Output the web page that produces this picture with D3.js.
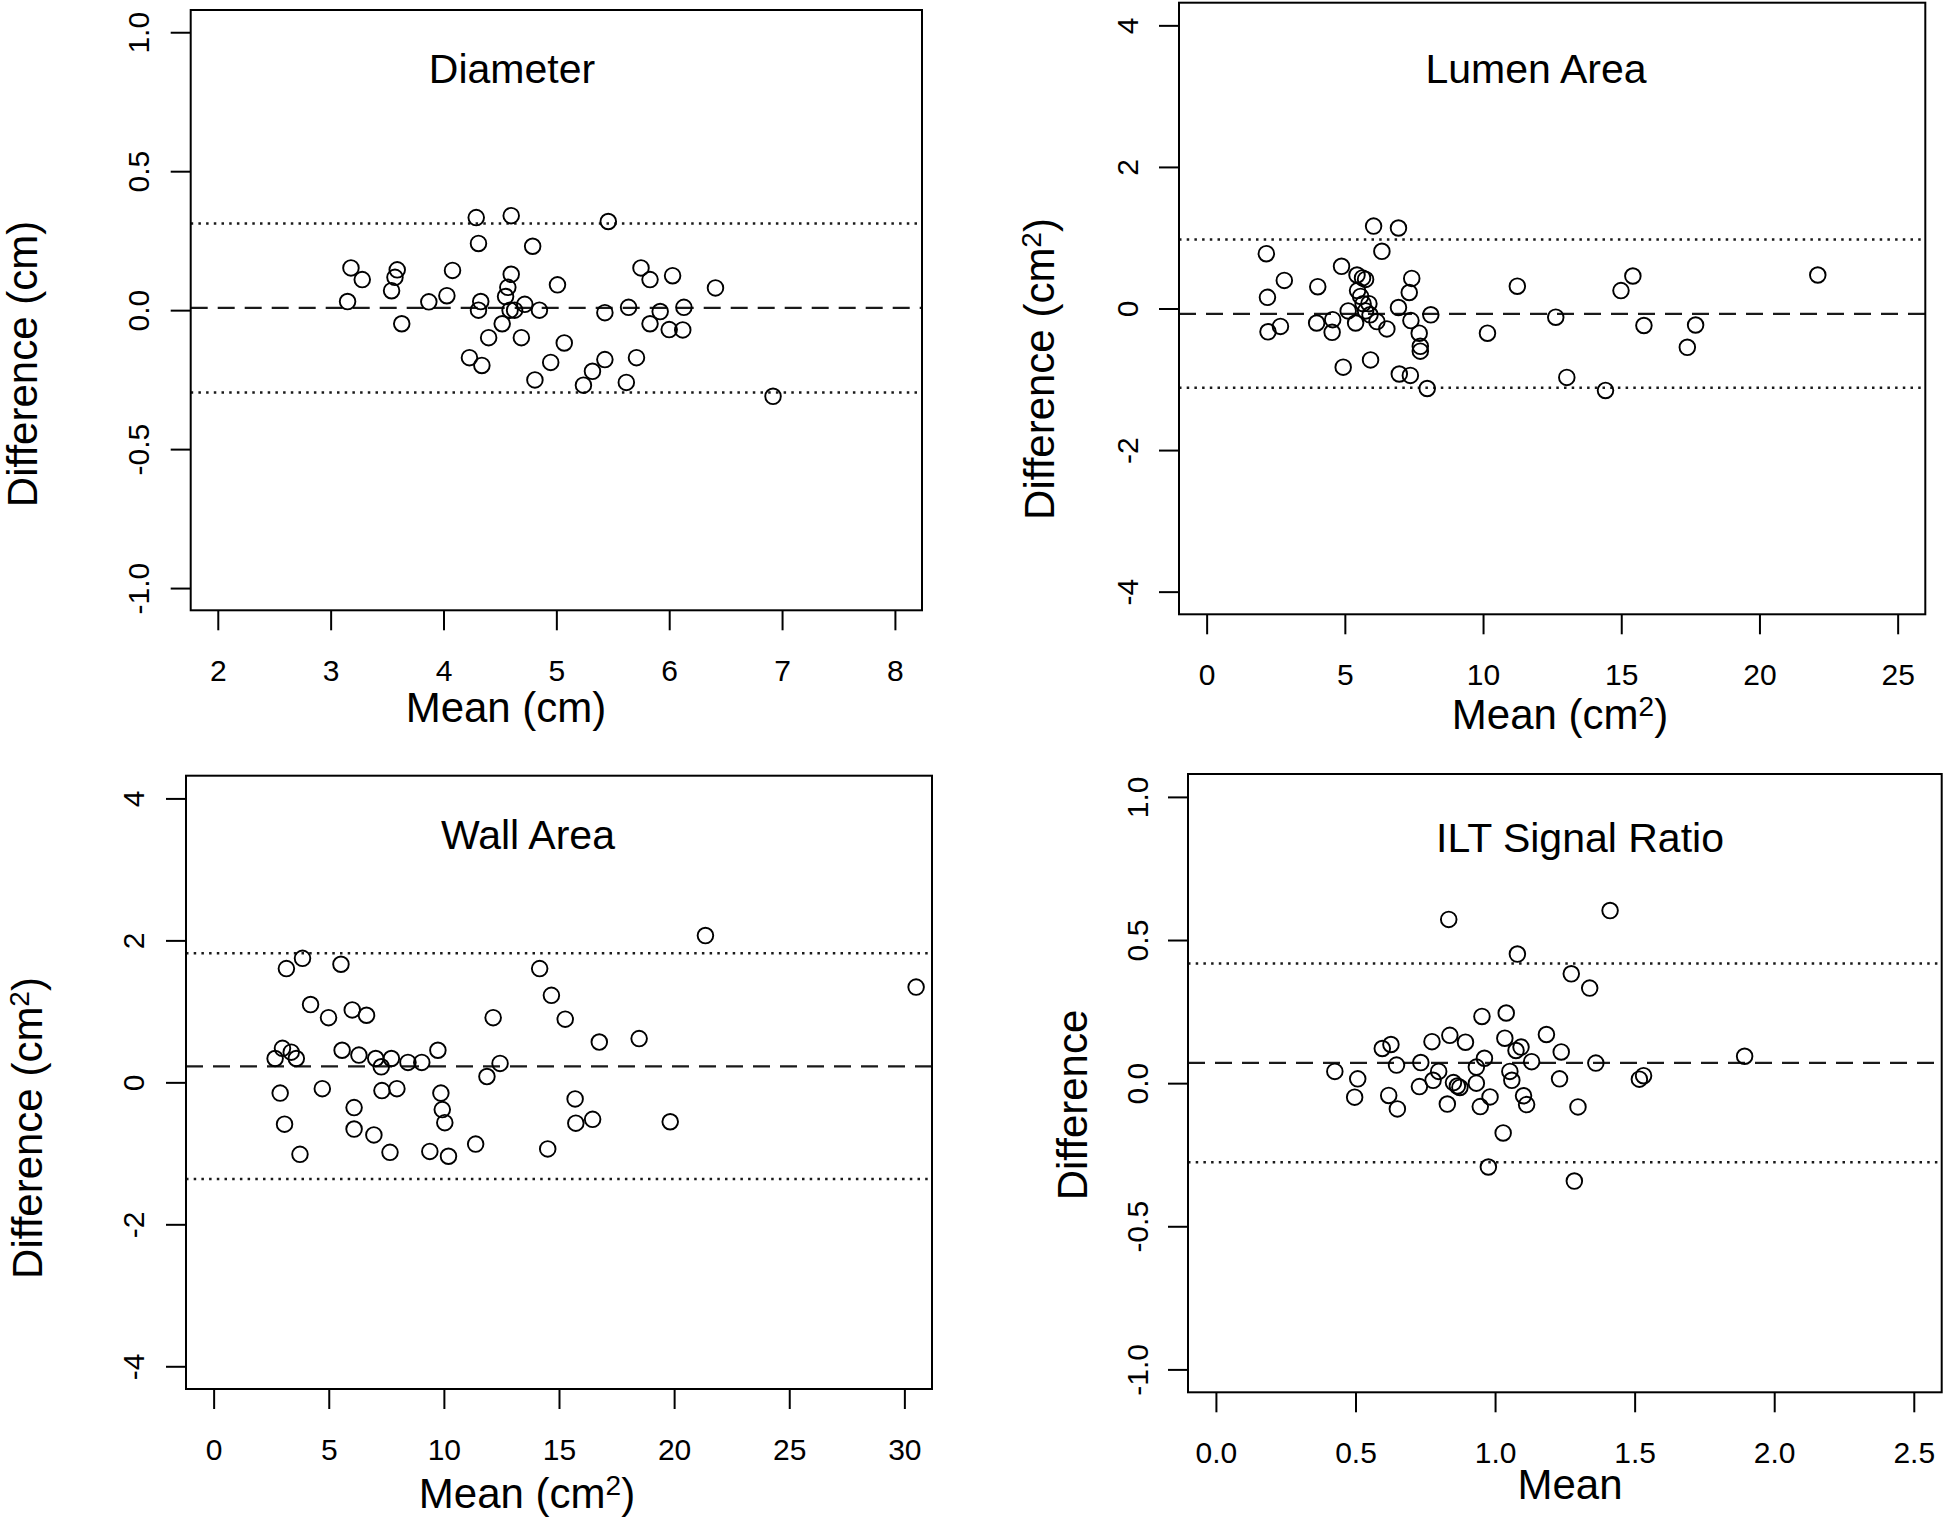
<!DOCTYPE html>
<html>
<head>
<meta charset="utf-8">
<script src="https://cdn.jsdelivr.net/npm/d3@7"></script>
<style>
  html, body { margin: 0; padding: 0; background: #fff; }
  svg { display: block; }
  text { font-family: "Liberation Sans", Arial, Helvetica, sans-serif; fill: #000; }
</style>
</head>
<body>
<svg id="chart" width="1946" height="1523"></svg>
<script>
// ---------- DATA ----------
const diameterTitle = "Diameter";
const diameterXTicks = [2, 3, 4, 5, 6, 7, 8];
const diameterYTicks = [-1.0, -0.5, 0.0, 0.5, 1.0];
const diameterMean = [3.15,3.18,3.28,3.54,3.57,3.59,3.63,3.87,4.03,4.08,4.23,4.29,4.31,4.33,4.31,4.34,4.40,4.52,4.55,4.57,4.60,4.60,4.59,4.63,4.69,4.72,4.79,4.81,4.85,4.95,5.01,5.07,5.24,5.32,5.43,5.43,5.46,5.64,5.62,5.71,5.75,5.83,5.83,5.92,6.00,6.03,6.12,6.13,6.41,6.92];
const diameterDiff = [0.031,0.152,0.11,0.07,0.118,0.145,-0.049,0.03,0.052,0.143,-0.171,0.333,0.24,0.031,0.0,-0.199,-0.099,-0.049,0.049,0.082,0.34,0.129,0.0,0.0,-0.099,0.021,0.23,-0.251,0.0,-0.188,0.091,-0.118,-0.27,-0.22,-0.178,-0.009,0.319,0.01,-0.26,-0.171,0.152,0.11,-0.049,-0.005,-0.07,0.124,-0.071,0.01,0.08,-0.31];
const diameterLines = [0.008, 0.312, -0.296]; // bias, upper LoA, lower LoA

const lumenTitle = "Lumen Area";
const lumenXTicks = [0, 5, 10, 15, 20, 25];
const lumenYTicks = [-4, -2, 0, 2, 4];
const lumenMean = [2.16,2.20,2.22,2.67,2.81,4.02,3.98,4.56,4.54,4.88,4.94,5.12,5.39,5.44,5.46,5.57,5.64,5.75,5.66,5.75,5.87,5.91,5.93,6.04,6.16,6.34,6.52,6.94,6.94,6.97,7.33,7.42,7.39,7.37,7.69,7.73,7.73,7.98,8.11,10.16,11.24,12.63,13.03,14.43,14.99,15.42,15.82,17.39,17.69,22.11];
const lumenDiff = [0.774,0.158,-0.329,-0.253,0.397,0.308,-0.205,-0.158,-0.336,0.596,-0.829,-0.034,-0.205,0.473,0.253,0.171,0.432,0.411,0.068,-0.034,0.068,-0.089,-0.726,1.164,-0.185,0.808,-0.288,1.137,0.014,-0.925,0.226,0.425,-0.171,-0.945,-0.349,-0.534,-0.603,-1.13,-0.089,-0.349,0.315,-0.123,-0.973,-1.158,0.253,0.459,-0.240,-0.548,-0.233,0.473];
const lumenLines = [-0.075, 0.975, -1.12];

const wallTitle = "Wall Area";
const wallXTicks = [0, 5, 10, 15, 20, 25, 30];
const wallYTicks = [-4, -2, 0, 2, 4];
const wallMean = [2.67,2.89,2.99,3.08,3.16,3.37,3.59,3.75,3.86,4.21,4.72,4.99,5.53,5.58,6.02,6.10,6.10,6.31,6.64,6.96,7.04,7.28,7.31,7.66,7.72,7.96,8.44,9.04,9.39,9.74,9.87,9.93,10.04,10.20,11.38,11.87,12.14,12.44,14.16,14.51,14.67,15.27,15.70,15.73,16.46,16.75,18.48,19.83,21.36,30.51];
const wallDiff = [0.336,-0.151,0.479,-0.589,1.603,0.425,0.336,-1.014,1.747,1.096,-0.089,0.911,1.664,0.452,1.021,-0.356,-0.658,0.384,0.945,-0.740,0.336,0.219,-0.116,-0.986,0.336,-0.089,0.281,0.281,-0.973,0.452,-0.151,-0.384,-0.568,-1.041,-0.870,0.082,0.911,0.267,1.603,-0.938,1.226,0.890,-0.233,-0.575,-0.521,0.568,0.616,-0.555,2.068,1.342];
const wallLines = [0.226, 1.82, -1.36];

const iltTitle = "ILT Signal Ratio";
const iltXTicks = [0.0, 0.5, 1.0, 1.5, 2.0, 2.5];
const iltYTicks = [-1.0, -0.5, 0.0, 0.5, 1.0];
const iltMean = [0.426,0.497,0.508,0.596,0.627,0.619,0.647,0.650,0.729,0.734,0.774,0.778,0.798,0.829,0.834,0.838,0.851,0.865,0.874,0.894,0.933,0.933,0.947,0.953,0.962,0.976,0.982,1.029,1.035,1.040,1.053,1.060,1.075,1.080,1.093,1.102,1.113,1.131,1.184,1.231,1.237,1.273,1.284,1.297,1.339,1.361,1.412,1.517,1.532,1.894];
const iltDiff = [0.041,-0.049,0.015,0.121,0.135,-0.043,0.063,-0.090,-0.012,0.072,0.145,0.010,0.041,-0.073,0.572,0.167,0.002,-0.010,-0.015,0.143,0.056,0.000,-0.082,0.233,0.087,-0.293,-0.048,-0.174,0.157,0.245,0.041,0.010,0.114,0.451,0.126,-0.044,-0.075,0.075,0.170,0.015,0.109,0.382,-0.342,-0.083,0.332,0.070,0.603,0.014,0.026,0.094];
const iltLines = [0.071, 0.418, -0.276];

// ---------- PANELS (layout) ----------
const panels = [
  { title: diameterTitle, xs: diameterMean, ys: diameterDiff, lines: diameterLines,
    xTicks: diameterXTicks, yTicks: diameterYTicks, xDec: 0, yDec: 1,
    box: {l: 190.7, r: 922, t: 10, b: 610.3},
    titlePos: [512, 83], ytickBase: 149, ylab: {x: 37, y: 364, text: "Difference (cm)", sup: false},
    xlab: {x: 506, y: 722, text: "Mean (cm)", sup: false} },
  { title: lumenTitle, xs: lumenMean, ys: lumenDiff, lines: lumenLines,
    xTicks: lumenXTicks, yTicks: lumenYTicks, xDec: 0, yDec: 0,
    box: {l: 1179, r: 1925.3, t: 2.7, b: 614.3},
    titlePos: [1536, 83], ytickBase: 1138, ylab: {x: 1054, y: 369, text: "Difference (cm", sup: true},
    xlab: {x: 1560, y: 729, text: "Mean (cm", sup: true} },
  { title: wallTitle, xs: wallMean, ys: wallDiff, lines: wallLines,
    xTicks: wallXTicks, yTicks: wallYTicks, xDec: 0, yDec: 0,
    box: {l: 186, r: 932, t: 775.7, b: 1389},
    titlePos: [528, 849], ytickBase: 144, ylab: {x: 42, y: 1128, text: "Difference (cm", sup: true},
    xlab: {x: 527, y: 1508, text: "Mean (cm", sup: true} },
  { title: iltTitle, xs: iltMean, ys: iltDiff, lines: iltLines,
    xTicks: iltXTicks, yTicks: iltYTicks, xDec: 1, yDec: 1,
    box: {l: 1188, r: 1941.7, t: 774, b: 1392.3},
    titlePos: [1580, 852], ytickBase: 1148, ylab: {x: 1087, y: 1105, text: "Difference", sup: false},
    xlab: {x: 1570, y: 1499, text: "Mean", sup: false} }
];

const svg = d3.select("#chart");
svg.append("rect").attr("width", 1946).attr("height", 1523).attr("fill", "#fff");

const fmt = (dec) => (v) => v.toFixed(dec);

function addLabel(g, cfg, rotate) {
  const t = g.append("text")
    .attr("font-size", 42)
    .attr("text-anchor", "middle");
  if (rotate) t.attr("transform", `translate(${cfg.x},${cfg.y}) rotate(-90)`);
  else t.attr("x", cfg.x).attr("y", cfg.y);
  t.append("tspan").text(cfg.text);
  if (cfg.sup) {
    t.append("tspan").attr("font-size", 28).attr("dy", -13).text("2");
    t.append("tspan").attr("dy", 13).text(")");
  }
}

panels.forEach((p, i) => {
  const g = svg.append("g");
  const xr = [p.xTicks[0], p.xTicks[p.xTicks.length - 1]];
  const yr = [p.yTicks[0], p.yTicks[p.yTicks.length - 1]];
  const xe = (xr[1] - xr[0]) * 0.04, ye = (yr[1] - yr[0]) * 0.04;
  const x = d3.scaleLinear().domain([xr[0] - xe, xr[1] + xe]).range([p.box.l, p.box.r]);
  const y = d3.scaleLinear().domain([yr[0] - ye, yr[1] + ye]).range([p.box.b, p.box.t]);

  const cid = "clip" + i;
  svg.append("clipPath").attr("id", cid).append("rect")
    .attr("x", p.box.l).attr("y", p.box.t)
    .attr("width", p.box.r - p.box.l).attr("height", p.box.b - p.box.t);

  // reference lines: bias (dashed), limits of agreement (dotted)
  const lg = g.append("g").attr("clip-path", `url(#${cid})`);
  p.lines.forEach((v, k) => {
    lg.append("line")
      .attr("x1", p.box.l).attr("x2", p.box.r)
      .attr("y1", y(v)).attr("y2", y(v))
      .attr("stroke", "#1a1a1a")
      .attr("stroke-width", k === 0 ? 2.3 : 2.5)
      .attr("stroke-dasharray", k === 0 ? "17,10" : "2.5,5.2");
  });

  // points
  lg.selectAll("circle").data(p.xs.map((d, j) => [d, p.ys[j]]))
    .enter().append("circle")
    .attr("cx", d => x(d[0])).attr("cy", d => y(d[1]))
    .attr("r", 7.8).attr("fill", "none")
    .attr("stroke", "#000").attr("stroke-width", 1.9);

  // box
  g.append("rect")
    .attr("x", p.box.l).attr("y", p.box.t)
    .attr("width", p.box.r - p.box.l).attr("height", p.box.b - p.box.t)
    .attr("fill", "none").attr("stroke", "#000").attr("stroke-width", 2);

  // x axis
  const xa = g.append("g").attr("transform", `translate(0,${p.box.b})`)
    .call(d3.axisBottom(x).tickValues(p.xTicks).tickFormat(fmt(p.xDec)).tickSize(20).tickSizeOuter(0));
  xa.select(".domain").remove();
  xa.selectAll(".tick line").attr("stroke", "#000").attr("stroke-width", 2);
  xa.selectAll(".tick text").attr("y", 71).attr("dy", null)
    .attr("font-size", 30).attr("fill", "#000")
    .attr("font-family", '"Liberation Sans", Arial, sans-serif');

  // y axis
  const ya = g.append("g").attr("transform", `translate(${p.box.l},0)`)
    .call(d3.axisLeft(y).tickValues(p.yTicks).tickFormat(fmt(p.yDec)).tickSize(20).tickSizeOuter(0));
  ya.select(".domain").remove();
  ya.selectAll(".tick line").attr("stroke", "#000").attr("stroke-width", 2);
  ya.selectAll(".tick text")
    .attr("x", null).attr("dy", null)
    .attr("transform", `translate(${p.ytickBase - p.box.l},0) rotate(-90)`)
    .attr("text-anchor", "middle")
    .attr("font-size", 30).attr("fill", "#000")
    .attr("font-family", '"Liberation Sans", Arial, sans-serif');

  // title
  g.append("text").attr("x", p.titlePos[0]).attr("y", p.titlePos[1])
    .attr("text-anchor", "middle").attr("font-size", 41).text(p.title);

  addLabel(g, p.xlab, false);
  addLabel(g, p.ylab, true);
});
</script>
</body>
</html>
